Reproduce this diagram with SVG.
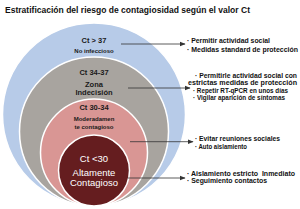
<svg xmlns="http://www.w3.org/2000/svg" width="300" height="209" viewBox="0 0 300 209">
<defs>
<style>
.t{font-family:"Liberation Sans",Arial,sans-serif;font-weight:bold;fill:#111}
.c{font-family:"Liberation Sans",Arial,sans-serif;font-weight:bold;fill:#1a1a1a;text-anchor:middle}
.w{font-family:"Liberation Sans",Arial,sans-serif;fill:#fff;text-anchor:middle;font-size:9.5px}
.r{font-family:"Liberation Sans",Arial,sans-serif;font-weight:bold;fill:#111;font-size:7px;white-space:pre}
.ring{stroke:#fff;stroke-width:1.5}
.conn{stroke:#333;stroke-width:0.8;fill:none;marker-end:url(#ah)}
</style>
<marker id="ah" viewBox="0 0 10 10" refX="9" refY="5" markerWidth="6" markerHeight="6" orient="auto" markerUnits="userSpaceOnUse">
<path d="M0,1 L10,5 L0,9 z" fill="#333"/>
</marker>
</defs>
<rect width="300" height="209" fill="#fff"/>
<text class="t" x="5" y="12.5" font-size="9" textLength="245" lengthAdjust="spacingAndGlyphs">Estratificación del riesgo de contagiosidad según el valor Ct</text>

<g id="node-ct37">
<circle class="ring" cx="94" cy="114.5" r="91.5" fill="#b7cbe8"/>
<text class="c" x="94" y="42.5" font-size="7.5">Ct &gt; 37</text>
<text class="c" x="94" y="53" font-size="6">No infeccioso</text>
</g>
<g id="node-ct34-37">
<circle class="ring" cx="94" cy="131.5" r="74.5" fill="#a8a49f"/>
<text class="c" x="94" y="74.5" font-size="7.5">Ct 34-37</text>
<text class="c" x="94" y="86.5" font-size="7.5">Zona</text>
<text class="c" x="94" y="94.5" font-size="7.5">Indecisión</text>
</g>
<g id="node-ct30-34">
<circle class="ring" cx="94" cy="152.5" r="53.5" fill="#d99694"/>
<text class="c" x="94" y="109.5" font-size="7.5">Ct 30-34</text>
<text class="c" x="94" y="121" font-size="6">Moderadamen</text>
<text class="c" x="94" y="129" font-size="6">te contagioso</text>
</g>
<g id="node-ct30">
<circle class="ring" cx="94" cy="170.5" r="35.5" fill="#651d1f"/>
<text class="w" x="94" y="162">Ct &lt;30</text>
<text class="w" x="94" y="176">Altamente</text>
<text class="w" x="94" y="185.5">Contagioso</text>
</g>

<g id="connectors">
<line class="conn" x1="121" y1="44" x2="185" y2="44"/>
<line class="conn" x1="128" y1="88" x2="190" y2="88"/>
<line class="conn" x1="130" y1="141.7" x2="193" y2="141.7"/>
<line class="conn" x1="128" y1="178" x2="185" y2="178"/>
</g>

<g id="text-ct37">
<text class="r" x="187" y="42.5" textLength="83" lengthAdjust="spacingAndGlyphs">· Permitir actividad social</text>
<text class="r" x="187" y="51.5" textLength="111" lengthAdjust="spacingAndGlyphs">· Medidas standard de protección</text>
</g>
<g id="text-ct34-37">
<text class="r" x="195" y="78" textLength="102" lengthAdjust="spacingAndGlyphs">· Permitirle actividad social con</text>
<text class="r" x="188" y="85" textLength="109" lengthAdjust="spacingAndGlyphs">estrictas medidas de protección</text>
<text class="r" x="193" y="92.5" textLength="95" lengthAdjust="spacingAndGlyphs">· Repetir RT-qPCR en unos días</text>
<text class="r" x="193" y="99.5" textLength="92" lengthAdjust="spacingAndGlyphs">· Vigilar aparición de síntomas</text>
</g>
<g id="text-ct30-34">
<text class="r" x="195" y="140.5" textLength="85" lengthAdjust="spacingAndGlyphs">· Evitar reuniones sociales</text>
<text class="r" x="195" y="149" textLength="52" lengthAdjust="spacingAndGlyphs">· Auto aislamiento</text>
</g>
<g id="text-ct30">
<text class="r" x="187" y="175.5" textLength="108" lengthAdjust="spacingAndGlyphs">· Aislamiento estricto  Inmediato</text>
<text class="r" x="187" y="183" textLength="80" lengthAdjust="spacingAndGlyphs">· Seguimiento contactos</text>
</g>
</svg>
